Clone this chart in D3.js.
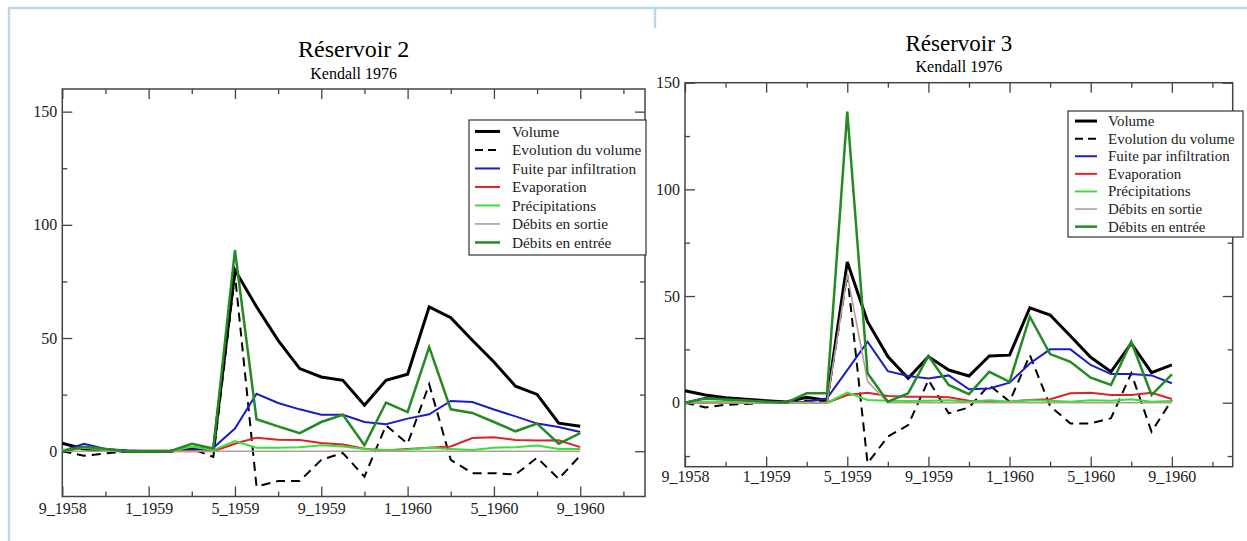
<!DOCTYPE html>
<html>
<head>
<meta charset="utf-8">
<script src="https://cdn.jsdelivr.net/npm/d3@7"></script>
<style>
  body { margin: 0; background: #fff; }
  svg { display: block; }
  .tick text { font-family: "Liberation Serif", "DejaVu Serif", serif; font-size: 16px; fill: #222; }
  .tick line { stroke: #444; stroke-width: 1.3; }
</style>
</head>
<body>
<div id="chart"></div>
<script>
var months = ["9_1958","10_1958","11_1958","12_1958","1_1959","2_1959","3_1959","4_1959","5_1959",
  "6_1959","7_1959","8_1959","9_1959","10_1959","11_1959","12_1959","1_1960","2_1960","3_1960",
  "4_1960","5_1960","6_1960","7_1960","8_1960","9_1960"]
var majorTicks = ["9_1958","1_1959","5_1959","9_1959","1_1960","5_1960","9_1960"]

var seriesNames = ["Volume","Evolution du volume","Fuite par infiltration","Evaporation","Précipitations","Débits en sortie","Débits en entrée"]

// Réservoir 2
var r2Volume = [3.5,1,0.5,0,0,0,1.5,0.5,80,63.8,49,36.5,32.8,31.3,20.3,31.3,34,63.8,59,49,39.4,28.7,25.1,12.4,11]
var r2Evolution = [0,-2,-1,0,0,0,1,-2.5,78,-15.6,-13.2,-13.2,-3.8,-0.8,-11.2,11.4,3.3,29.6,-3.8,-9.7,-9.7,-10.3,-2.9,-12.2,-1.9]
var r2Fuite = [0,3.3,1,0.3,0,0,0.5,1.5,10,25.4,21.3,18.5,16.1,16.1,12.9,11.9,14.4,16.3,22.2,21.7,18.4,15.4,12.2,10.7,8.5]
var r2Evaporation = [0,1.5,0.5,0,0,0,0,0,3.3,6,5.1,5,3.6,3,1.1,0.3,1,1.5,2.1,5.8,6.2,5,4.7,4.8,1.8]
var r2Precip = [0.5,1.5,0.5,0,0,0,2,0.5,4.5,1.5,1.5,1.8,2.6,2.1,1,0.5,0.8,1.5,1,0.5,1.5,1.8,2.5,1,1]
var r2Sortie = [0,0,0,0,0,0,0,0,0,0,0,0,0,0,0,0,0,0,0,0,0,0,0,0,0]
var r2Entree = [0,2,1,0,0,0,3.3,1.2,88.8,14.1,11,8,12.9,16.1,2.6,21.5,17.3,46,18.5,16.9,12.9,8.8,12.2,3.3,8]

// Réservoir 3
var r3Volume = [5.6,3.6,2.3,1.6,0.9,0.3,2.5,1,66,38,21.6,11.4,21.6,15.3,12.5,21.9,22.3,44.5,41.1,31.3,21.3,14.5,27.8,14.1,17.7]
var r3Evolution = [0,-2.2,-1,-0.6,0,0,1,0.5,60,-28.4,-15.9,-10.5,10.6,-5,-2.2,8.3,0.5,22.3,-1.6,-9.7,-9.7,-7.3,13.8,-13.6,1.3]
var r3Fuite = [0,2.3,1.5,1,0.5,0,0.5,2,15.3,28.6,14.8,12.5,11.4,12.8,6.3,6.7,9.4,18.4,25,25,17.7,13.4,13.4,12.8,9.1]
var r3Evaporation = [0,0,0,0,0,0,0,0,3.6,4.7,3.1,2.8,2.8,2.5,0.9,0.5,0.5,1.3,1.6,4.4,4.7,3.6,3.6,4.7,1.7]
var r3Precip = [0,0.5,0.5,0,0,0,0,0,4.7,1.3,0.9,0.8,0.9,1.2,0.5,1.2,0.5,1.2,0.9,0.5,1.2,0.9,1.6,0.5,0.8]
var r3Sortie = [0,0,0,0,0,0,0,0,60,10,0,0,0,0,0,0,0,0,0,0,0,0,0,0,0]
var r3Entree = [0,2,1.5,1,0.5,0,4.4,4.4,136.4,13.8,0.5,4.4,21.9,8.3,4,14.5,9.8,40.3,22.8,19.2,11.7,8.3,28.6,3.6,13.3]

var styles = [
  {color: "#000", width: 3, dash: null},
  {color: "#000", width: 2, dash: "9,6"},
  {color: "#1c1cc8", width: 2, dash: null},
  {color: "#dd2424", width: 2, dash: null},
  {color: "#3ae03a", width: 2, dash: null},
  {color: "#b59d96", width: 1.6, dash: null},
  {color: "#238b23", width: 2.5, dash: null}
]

var serif = "Liberation Serif, DejaVu Serif, serif"
var W = 1247, H = 541
var svg = d3.select("#chart").append("svg").attr("width", W).attr("height", H)

// document frame lines
svg.append("line").attr("x1", 8).attr("y1", 8).attr("x2", W).attr("y2", 8)
   .attr("stroke", "#bdd7ee").attr("stroke-width", 2.5)
svg.append("line").attr("x1", 9).attr("y1", 8).attr("x2", 9).attr("y2", H)
   .attr("stroke", "#bdd7ee").attr("stroke-width", 2.5)
svg.append("line").attr("x1", 655).attr("y1", 8).attr("x2", 655).attr("y2", 28)
   .attr("stroke", "#bdd7ee").attr("stroke-width", 2.5)

function drawPanel(cfg, data){
  var x = d3.scaleLinear().domain([0, 27]).range([cfg.left, cfg.right])
  var y = d3.scaleLinear().domain(cfg.yDomain).range([cfg.bottom, cfg.top])
  var g = svg.append("g")

  var majIdx = majorTicks.map(m => months.indexOf(m))
  var minIdx = d3.range(0, 28, 2).filter(i => majIdx.indexOf(i) < 0)
  var yMaj = [0, 50, 100, 150]
  var yMin = [-25, 25, 75, 125].filter(v => v > cfg.yDomain[0])

  // bottom axis (labels) with inward ticks
  var bot = g.append("g").attr("transform", "translate(0," + cfg.bottom + ")")
  bot.call(d3.axisBottom(x).tickValues(majIdx).tickSize(-10).tickPadding(cfg.xPad)
      .tickFormat(i => months[i]))
  bot.append("g").call(d3.axisBottom(x).tickValues(minIdx).tickSize(-5).tickFormat(""))
  var top = g.append("g").attr("transform", "translate(0," + cfg.top + ")")
  top.call(d3.axisTop(x).tickValues(majIdx).tickSize(-10).tickFormat(""))
  top.append("g").call(d3.axisTop(x).tickValues(minIdx).tickSize(-5).tickFormat(""))

  var left = g.append("g").attr("transform", "translate(" + cfg.left + ",0)")
  left.call(d3.axisLeft(y).tickValues(yMaj).tickSize(-10).tickPadding(5))
  left.append("g").call(d3.axisLeft(y).tickValues(yMin).tickSize(-5).tickFormat(""))
  var right = g.append("g").attr("transform", "translate(" + cfg.right + ",0)")
  right.call(d3.axisRight(y).tickValues(yMaj).tickSize(-10).tickFormat(""))
  right.append("g").call(d3.axisRight(y).tickValues(yMin).tickSize(-5).tickFormat(""))

  g.selectAll(".domain").remove()
  g.selectAll(".tick text").attr("font-family", serif).attr("font-size", 16)

  g.append("rect")
    .attr("x", cfg.left).attr("y", cfg.top)
    .attr("width", cfg.right - cfg.left).attr("height", cfg.bottom - cfg.top)
    .attr("fill", "none").attr("stroke", "#444").attr("stroke-width", 1.5)

  var line = d3.line().x((d, i) => x(i)).y(d => y(d))
  data.forEach((vals, k) => {
    var s = styles[k]
    g.append("path")
      .datum(vals)
      .attr("fill", "none")
      .attr("stroke", s.color)
      .attr("stroke-width", s.width)
      .attr("stroke-dasharray", s.dash)
      .attr("stroke-linejoin", "miter")
      .attr("d", line)
  })

  // titles
  g.append("text").attr("x", (cfg.left + cfg.right) / 2).attr("y", cfg.titleY)
    .attr("text-anchor", "middle")
    .style("font-family", serif).style("font-size", cfg.titleSize + "px")
    .text(cfg.title)
  g.append("text").attr("x", (cfg.left + cfg.right) / 2).attr("y", cfg.subY)
    .attr("text-anchor", "middle")
    .style("font-family", serif).style("font-size", "16px")
    .text("Kendall 1976")

  // legend
  var L = cfg.legend
  g.append("rect").attr("x", L.x).attr("y", L.y).attr("width", L.w).attr("height", L.h)
    .attr("fill", "#fff").attr("stroke", "#333").attr("stroke-width", 1.2)
  seriesNames.forEach((name, k) => {
    var s = styles[k]
    var by = L.row0 + k * L.step
    g.append("line")
      .attr("x1", L.lx1).attr("x2", L.lx2)
      .attr("y1", by - L.fs * 0.33).attr("y2", by - L.fs * 0.33)
      .attr("stroke", s.color).attr("stroke-width", s.width)
      .attr("stroke-dasharray", s.dash ? "8,5" : null)
    g.append("text").attr("x", L.tx).attr("y", by)
      .style("font-family", serif).style("font-size", L.fs + "px")
      .attr("fill", "#222")
      .text(name)
  })
}

drawPanel({
  left: 62.3, right: 645, top: 89, bottom: 496.5, yDomain: [-20, 160], xPad: 6,
  title: "Réservoir 2", titleSize: 24, titleY: 57, subY: 79,
  legend: {x: 469, y: 120, w: 177, h: 135, row0: 136.5, step: 18.5, lx1: 475, lx2: 500, tx: 512, fs: 15.3}
}, [r2Volume, r2Evolution, r2Fuite, r2Evaporation, r2Precip, r2Sortie, r2Entree])

drawPanel({
  left: 685, right: 1232.7, top: 82.7, bottom: 466.7, yDomain: [-30, 150], xPad: 4,
  title: "Réservoir 3", titleSize: 23, titleY: 51, subY: 72,
  legend: {x: 1068, y: 111, w: 175, h: 126, row0: 126, step: 17.6, lx1: 1075, lx2: 1097, tx: 1108, fs: 15}
}, [r3Volume, r3Evolution, r3Fuite, r3Evaporation, r3Precip, r3Sortie, r3Entree])
</script>
</body>
</html>
